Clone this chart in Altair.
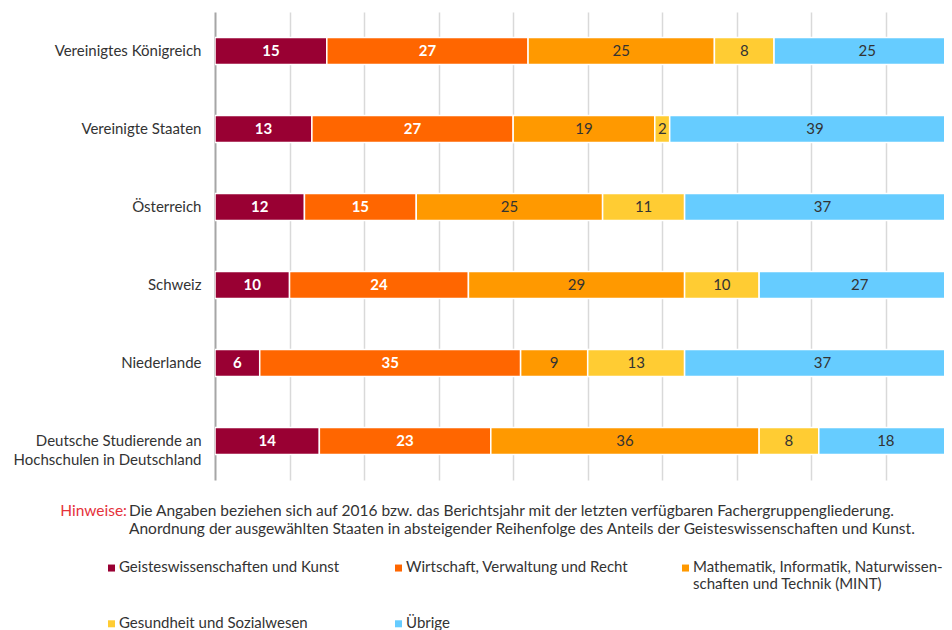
import altair as alt
import pandas as pd

countries = [
    "Vereinigtes Königreich",
    "Vereinigte Staaten",
    "Österreich",
    "Schweiz",
    "Niederlande",
    "Deutsche Studierende an Hochschulen in Deutschland",
]
categories = [
    "Geisteswissenschaften und Kunst",
    "Wirtschaft, Verwaltung und Recht",
    "Mathematik, Informatik, Naturwissenschaften und Technik (MINT)",
    "Gesundheit und Sozialwesen",
    "Übrige",
]
geistes = [15, 13, 12, 10, 6, 14]
wirtschaft = [27, 27, 15, 24, 35, 23]
mint = [25, 19, 25, 29, 9, 36]
gesundheit = [8, 2, 11, 10, 13, 8]
uebrige = [25, 39, 37, 27, 37, 18]
colors = ["#990033", "#FF6600", "#FF9900", "#FFCC33", "#66CCFF"]

note_label = ["Hinweise:"]
note_lines = [
    "Die Angaben beziehen sich auf 2016 bzw. das Berichtsjahr mit der letzten verfügbaren Fachergruppengliederung.",
    "Anordnung der ausgewählten Staaten in absteigender Reihenfolge des Anteils der Geisteswissenschaften und Kunst.",
]

series = [geistes, wirtschaft, mint, gesundheit, uebrige]
rows = []
for ci, (cat, vals) in enumerate(zip(categories, series)):
    for country, v in zip(countries, vals):
        rows.append({"country": country, "category": cat, "idx": ci, "value": v})
df = pd.DataFrame(rows)

FONT = "Lato"
FS = 15

base = (
    alt.Chart(df)
    .transform_stack(stack="value", groupby=["country"], as_=["x0", "x1"],
                     sort=[alt.SortField("idx", order="ascending")])
    .transform_calculate(mid="(datum.x0 + datum.x1) / 2")
)

y_enc = alt.Y(
    "country:N",
    sort=countries,
    scale=alt.Scale(paddingInner=0, paddingOuter=0),
    axis=alt.Axis(
        title=None,
        ticks=False,
        grid=False,
        domain=True,
        domainColor="#a6a6a6",
        domainWidth=2,
        labelFont=FONT,
        labelFontSize=FS,
        labelColor="#333333",
        labelPadding=14,
        labelLimit=400,
        labelLineHeight=19,
        labelExpr="datum.label == 'Deutsche Studierende an Hochschulen in Deutschland' ? ['Deutsche Studierende an', 'Hochschulen in Deutschland'] : datum.label",
    ),
)

# the reference plot is cut off at the right edge, just short of 100 %
x_scale = alt.Scale(domain=[0, 97.8], nice=False, zero=True)

# square symbol shifted upward so it lines up with the first label line
symbol_path = "M-1,-2.06 L1,-2.06 L1,-0.06 L-1,-0.06 Z"

bars = base.mark_bar(size=27, stroke="white", strokeWidth=1.5, clip=True).encode(
    y=y_enc,
    x=alt.X(
        "x0:Q",
        scale=x_scale,
        axis=alt.Axis(
            title=None,
            labels=False,
            ticks=False,
            domain=False,
            grid=True,
            gridColor="#d9d9d9",
            gridWidth=1.5,
            values=[10, 20, 30, 40, 50, 60, 70, 80, 90],
        ),
    ),
    x2="x1:Q",
    color=alt.Color(
        "category:N",
        scale=alt.Scale(domain=categories, range=colors),
        legend=alt.Legend(
            orient="none",
            direction="horizontal",
            legendX=-111,
            legendY=552,
            columns=3,
            gridAlign="all",
            columnPadding=22,
            rowPadding=23,
            title=None,
            symbolType=symbol_path,
            symbolSize=49,
            symbolStrokeWidth=0,
            labelFont=FONT,
            labelFontSize=FS,
            labelColor="#333333",
            labelLimit=500,
            labelOffset=0,
            labelBaseline="alphabetic",
            labelExpr="datum.label == 'Mathematik, Informatik, Naturwissenschaften und Technik (MINT)' ? ['Mathematik, Informatik, Naturwissen-', 'schaften und Technik (MINT)'] : [datum.label, '']",
        ),
    ),
)

text_white = base.transform_filter("datum.idx < 2").mark_text(
    font=FONT, fontSize=FS, fontWeight="bold", color="white", baseline="middle", align="center"
).encode(
    y=alt.Y("country:N", sort=countries),
    x=alt.X("mid:Q", scale=x_scale),
    text="value:Q",
)

text_dark = base.transform_filter("datum.idx >= 2").mark_text(
    font=FONT, fontSize=FS, color="#333333", baseline="middle", align="center"
).encode(
    y=alt.Y("country:N", sort=countries),
    x=alt.X("mid:Q", scale=x_scale),
    text="value:Q",
)

hin = alt.Chart(pd.DataFrame({"t": note_label})).mark_text(
    font=FONT, fontSize=15.5, color="#e5323b", align="right", baseline="middle"
).encode(x=alt.value(-88), y=alt.value(499), text="t:N")

note = alt.Chart(pd.DataFrame({"t": ["\n".join(note_lines)]})).mark_text(
    font=FONT, fontSize=15.5, color="#333333", align="left", baseline="middle",
    lineBreak="\n", lineHeight=18,
).encode(x=alt.value(-86), y=alt.value(499), text="t:N")

chart = (
    alt.layer(bars, text_white, text_dark, hin, note)
    .properties(
        width=729,
        height=468,
        autosize=alt.AutoSizeParams(type="none"),
        padding={"left": 207, "top": 4, "right": 0, "bottom": 150},
    )
    .configure_view(stroke=None)
)

chart.save("out.html", embed_options={"renderer": "svg", "actions": False})
